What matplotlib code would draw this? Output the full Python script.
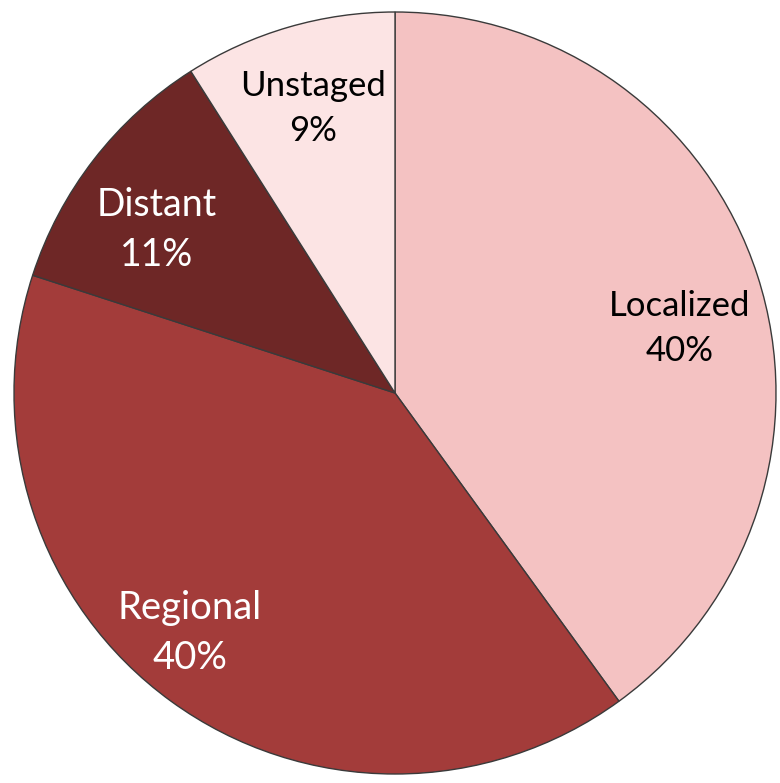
import matplotlib
matplotlib.use("Agg")
import matplotlib.pyplot as plt
import numpy as np

categories = ["Localized", "Regional", "Distant", "Unstaged"]
values = [40, 40, 11, 9]
colors = ["#F4C2C2", "#A33C3A", "#6E2726", "#FCE4E4"]
text_colors = ["black", "white", "white", "black"]
label_dist = [0.767, 0.828, 0.757, 0.778]
label_angle_shift = [-5.15, -4.5, 3.4, -0.15]
label_sizes = [25, 27.5, 27, 25]

plt.rcParams['font.family'] = ['Lato', 'DejaVu Sans']

W, H = 780, 783
fig = plt.figure(figsize=(W / 100, H / 100), dpi=100)
ax = fig.add_axes([0, 0, 1, 1])

cx, cy, R = 395, H - 393, 381
wedges, _ = ax.pie(values, startangle=90, counterclock=False, colors=colors,
                   center=(cx, cy), radius=R, frame=True,
                   wedgeprops=dict(edgecolor="#3a3a3a", linewidth=1.0))
ax.set_xlim(0, W)
ax.set_ylim(0, H)
ax.set_aspect('equal')
ax.axis('off')

for w, cat, v, tc, d, s, fs in zip(wedges, categories, values, text_colors,
                                   label_dist, label_angle_shift, label_sizes):
    ang = np.deg2rad((w.theta1 + w.theta2) / 2 + s)
    x = cx + d * R * np.cos(ang)
    y = cy + d * R * np.sin(ang)
    ax.text(x, y, f"{cat}\n{v}%", ha="center", va="center", color=tc,
            fontsize=fs, linespacing=1.5)

fig.savefig("out.png", dpi=100)
